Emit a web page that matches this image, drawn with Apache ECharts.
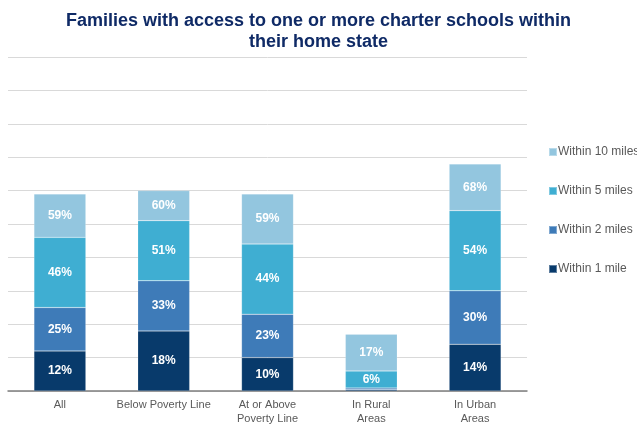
<!DOCTYPE html>
<html>
<head>
<meta charset="utf-8">
<script src="https://cdn.jsdelivr.net/npm/echarts@6/dist/echarts.min.js"></script>
<style>
  html, body { margin: 0; padding: 0; background: #fff; }
  #chart { width: 637px; height: 425px; }
</style>
</head>
<body>
<div id="chart"></div>
<script>
// Share of families (cumulative %) with a charter school within each distance
const categories = ['All', 'Below Poverty Line', 'At or Above\nPoverty Line', 'In Rural\nAreas', 'In Urban\nAreas'];
const within1 = [12, 18, 10, 0.4, 14];
const within2 = [25, 33, 23, 0.9, 30];
const within5 = [46, 51, 44, 6, 54];
const within10 = [59, 60, 59, 17, 68];
// labels shown on segments (null = too thin to label)
const labels1 = ['12%', '18%', '10%', null, '14%'];
const labels2 = ['25%', '33%', '23%', null, '30%'];
const labels5 = ['46%', '51%', '44%', '6%', '54%'];
const labels10 = ['59%', '60%', '59%', '17%', '68%'];
const yTicks = [0, 10, 20, 30, 40, 50, 60, 70, 80, 90, 100];

const chart = echarts.init(document.getElementById('chart'));

// Each band is stacked as the increment over the previous distance,
// so the top of each segment sits at the cumulative value.
function increments(cur, prev) {
  return cur.map((v, i) => +(v - (prev ? prev[i] : 0)).toFixed(2));
}

function seriesFor(name, cur, prev, labels, color) {
  return {
    name: name,
    type: 'bar',
    stack: 'total',
    barWidth: '50%',
    itemStyle: { color: color, borderColor: 'rgba(255,255,255,0.35)', borderWidth: 0.5 },
    label: {
      show: true,
      position: 'inside',
      color: '#ffffff',
      fontFamily: 'Liberation Sans, Arial, sans-serif',
      fontWeight: 'bold',
      fontSize: 12,
      formatter: p => labels[p.dataIndex] || ''
    },
    data: increments(cur, prev)
  };
}

chart.setOption({
  animation: false,
  title: {
    text: 'Families with access to one or more charter schools within\ntheir home state',
    left: 'center',
    top: 6,
    textStyle: {
      color: '#0F2A66',
      fontFamily: 'Liberation Sans, Arial, sans-serif',
      fontWeight: 'bold',
      fontSize: 18,
      lineHeight: 21
    }
  },
  legend: {
    orient: 'vertical',
    left: 548,
    top: 146,
    padding: 0,
    itemGap: 27,
    itemWidth: 8,
    itemHeight: 8,
    icon: 'rect',
    textStyle: {
      color: '#595959',
      fontFamily: 'Liberation Sans, Arial, sans-serif',
      fontSize: 12,
      padding: [0, 0, 0, -4]
    },
    data: ['Within 10 miles', 'Within 5 miles', 'Within 2 miles', 'Within 1 mile']
  },
  grid: { left: 8, right: 110, top: 57, bottom: 34, outerBoundsMode: 'none', containLabel: false },
  xAxis: {
    type: 'category',
    data: categories,
    axisTick: { show: false },
    axisLine: { lineStyle: { color: '#7F7F7F', width: 1.5 } },
    axisLabel: {
      color: '#595959',
      fontFamily: 'Liberation Sans, Arial, sans-serif',
      fontSize: 11,
      lineHeight: 14,
      margin: 7,
      interval: 0
    }
  },
  yAxis: {
    type: 'value',
    min: yTicks[0],
    max: yTicks[yTicks.length - 1],
    interval: 10,
    axisLabel: { show: false },
    axisLine: { show: false },
    axisTick: { show: false },
    splitLine: { lineStyle: { color: '#D9D9D9', width: 1 } }
  },
  series: [
    seriesFor('Within 1 mile', within1, null, labels1, '#083A6B'),
    seriesFor('Within 2 miles', within2, within1, labels2, '#3E7BB8'),
    seriesFor('Within 5 miles', within5, within2, labels5, '#3FAED2'),
    seriesFor('Within 10 miles', within10, within5, labels10, '#93C6DF')
  ]
});
</script>
</body>
</html>
